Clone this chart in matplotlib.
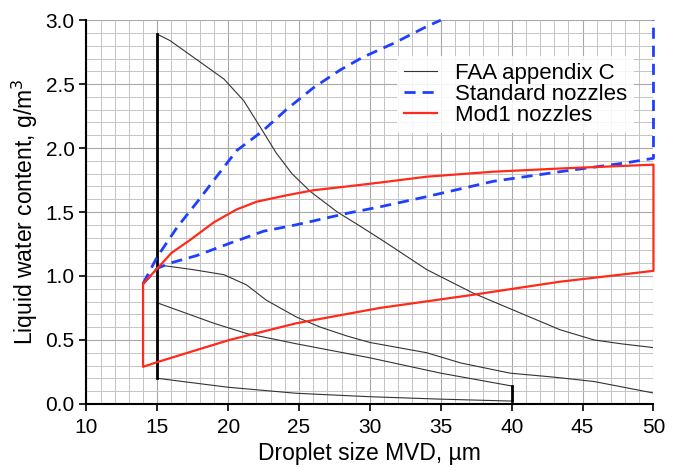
import matplotlib.pyplot as plt
import numpy as np

plt.rcParams['font.family'] = ['Liberation Sans', 'DejaVu Sans']

# FAA appendix C envelopes
faa_cmax_x = [15, 15.9, 17.8, 19.7, 21.1, 22.4, 23.4, 24.5, 25.8, 27.7, 29.3, 31, 34, 37.3, 40.1, 43.4, 45.8, 47.7, 50]
faa_cmax_y = [2.89, 2.84, 2.69, 2.54, 2.37, 2.14, 1.96, 1.80, 1.66, 1.50, 1.39, 1.27, 1.05, 0.865, 0.734, 0.58, 0.50, 0.47, 0.44]
faa_cavg_x = [15, 15.5, 17.5, 19.7, 21.3, 22.7, 24.8, 26.5, 28.4, 30, 34, 36.4, 39.9, 42.9, 45.8, 50]
faa_cavg_y = [1.08, 1.08, 1.05, 1.01, 0.93, 0.81, 0.68, 0.60, 0.53, 0.48, 0.40, 0.32, 0.24, 0.21, 0.175, 0.085]
faa_imax_x = [15, 19, 21.3, 24.8, 30, 35, 40]
faa_imax_y = [0.79, 0.63, 0.55, 0.47, 0.36, 0.24, 0.14]
faa_imin_x = [15, 20, 24.8, 30, 35, 40]
faa_imin_y = [0.20, 0.13, 0.083, 0.056, 0.037, 0.022]

# Standard nozzles
std_up_x = [14, 15, 16.4, 17.9, 19, 20.6, 22.4, 24.1, 26, 27.9, 29.5, 31.7, 34, 35]
std_up_y = [0.94, 1.15, 1.38, 1.59, 1.75, 1.98, 2.13, 2.30, 2.47, 2.61, 2.71, 2.82, 2.95, 3.0]
std_lo_x = [14, 15, 15.9, 17.8, 20.1, 22.5, 24.8, 28.4, 30.7, 34, 38.7, 43.4, 48.1, 50, 50]
std_lo_y = [0.94, 1.06, 1.10, 1.16, 1.255, 1.35, 1.40, 1.49, 1.54, 1.62, 1.74, 1.815, 1.885, 1.92, 3.0]

# Mod1 nozzles
mod_x = [14, 15.1, 16, 17.3, 19, 20.6, 22, 24.1, 26, 28.4, 30.7, 34, 38.7, 43.4, 50,
         50, 43.4, 37.1, 30.7, 24.8, 20.1, 15.1, 14, 14]
mod_y = [0.94, 1.07, 1.18, 1.28, 1.42, 1.52, 1.58, 1.63, 1.67, 1.70, 1.73, 1.776, 1.815, 1.84, 1.87,
         1.04, 0.955, 0.85, 0.75, 0.63, 0.50, 0.33, 0.29, 0.94]

fig = plt.figure(figsize=(6.8, 4.68), dpi=100)
ax = fig.add_axes([0.127, 0.137, 0.834, 0.82])

ax.set_xlim(10, 50)
ax.set_ylim(0, 3)
ax.set_xticks(np.arange(10, 51, 5))
ax.set_yticks(np.arange(0, 3.01, 0.5))
ax.set_xticks(np.arange(10, 51, 1), minor=True)
ax.set_yticks(np.arange(0, 3.01, 0.1), minor=True)
ax.set_yticklabels(['%.1f' % v for v in np.arange(0, 3.01, 0.5)])
ax.grid(which='major', color='#a8a8a8', lw=0.8)
ax.grid(which='minor', color='#c4c4c4', lw=0.7)
ax.set_axisbelow(True)
ax.tick_params(which='minor', length=0)
ax.tick_params(which='major', direction='out', length=5, width=1.2, labelsize=15)
ax.tick_params(axis='x', pad=5)
for s in ['top', 'right']:
    ax.spines[s].set_visible(False)
for s in ['left', 'bottom']:
    ax.spines[s].set_linewidth(1.5)

faa_kw = dict(color='#333333', lw=0.8)
ax.plot(faa_cmax_x, faa_cmax_y, label='FAA appendix C', **faa_kw)
ax.plot(faa_cavg_x, faa_cavg_y, **faa_kw)
ax.plot(faa_imax_x, faa_imax_y, **faa_kw)
ax.plot(faa_imin_x, faa_imin_y, **faa_kw)
ax.plot([15, 15], [faa_imin_y[0], faa_cmax_y[0]], color='black', lw=2)
ax.plot([40, 40], [faa_imin_y[-1], faa_imax_y[-1]], color='black', lw=2)

ax.plot(std_up_x, std_up_y, color='#1f3fff', lw=2, ls=(0, (4, 2.5)), label='Standard nozzles', clip_on=False)
ax.plot(std_lo_x, std_lo_y, color='#1f3fff', lw=2, ls=(0, (4, 2.5)), clip_on=False)

ax.plot(mod_x, mod_y, color='#ff2a1a', lw=1.6, label='Mod1 nozzles', clip_on=False)

leg = ax.legend(loc='upper right', bbox_to_anchor=(0.985, 0.935), fontsize=16, frameon=True,
                handlelength=1.5, labelspacing=0.0, borderpad=0.3, handletextpad=0.8)
leg.get_frame().set_edgecolor('none')
leg.get_frame().set_facecolor('white')
leg.get_frame().set_alpha(0.85)
leg.get_frame().set_boxstyle('square', pad=0)

ax.set_xlabel('Droplet size MVD, µm', fontsize=16.5, labelpad=4)
ax.set_ylabel('Liquid water content, g/m$^3$', fontsize=16.5, labelpad=4)

fig.savefig('out.png', dpi=100)
